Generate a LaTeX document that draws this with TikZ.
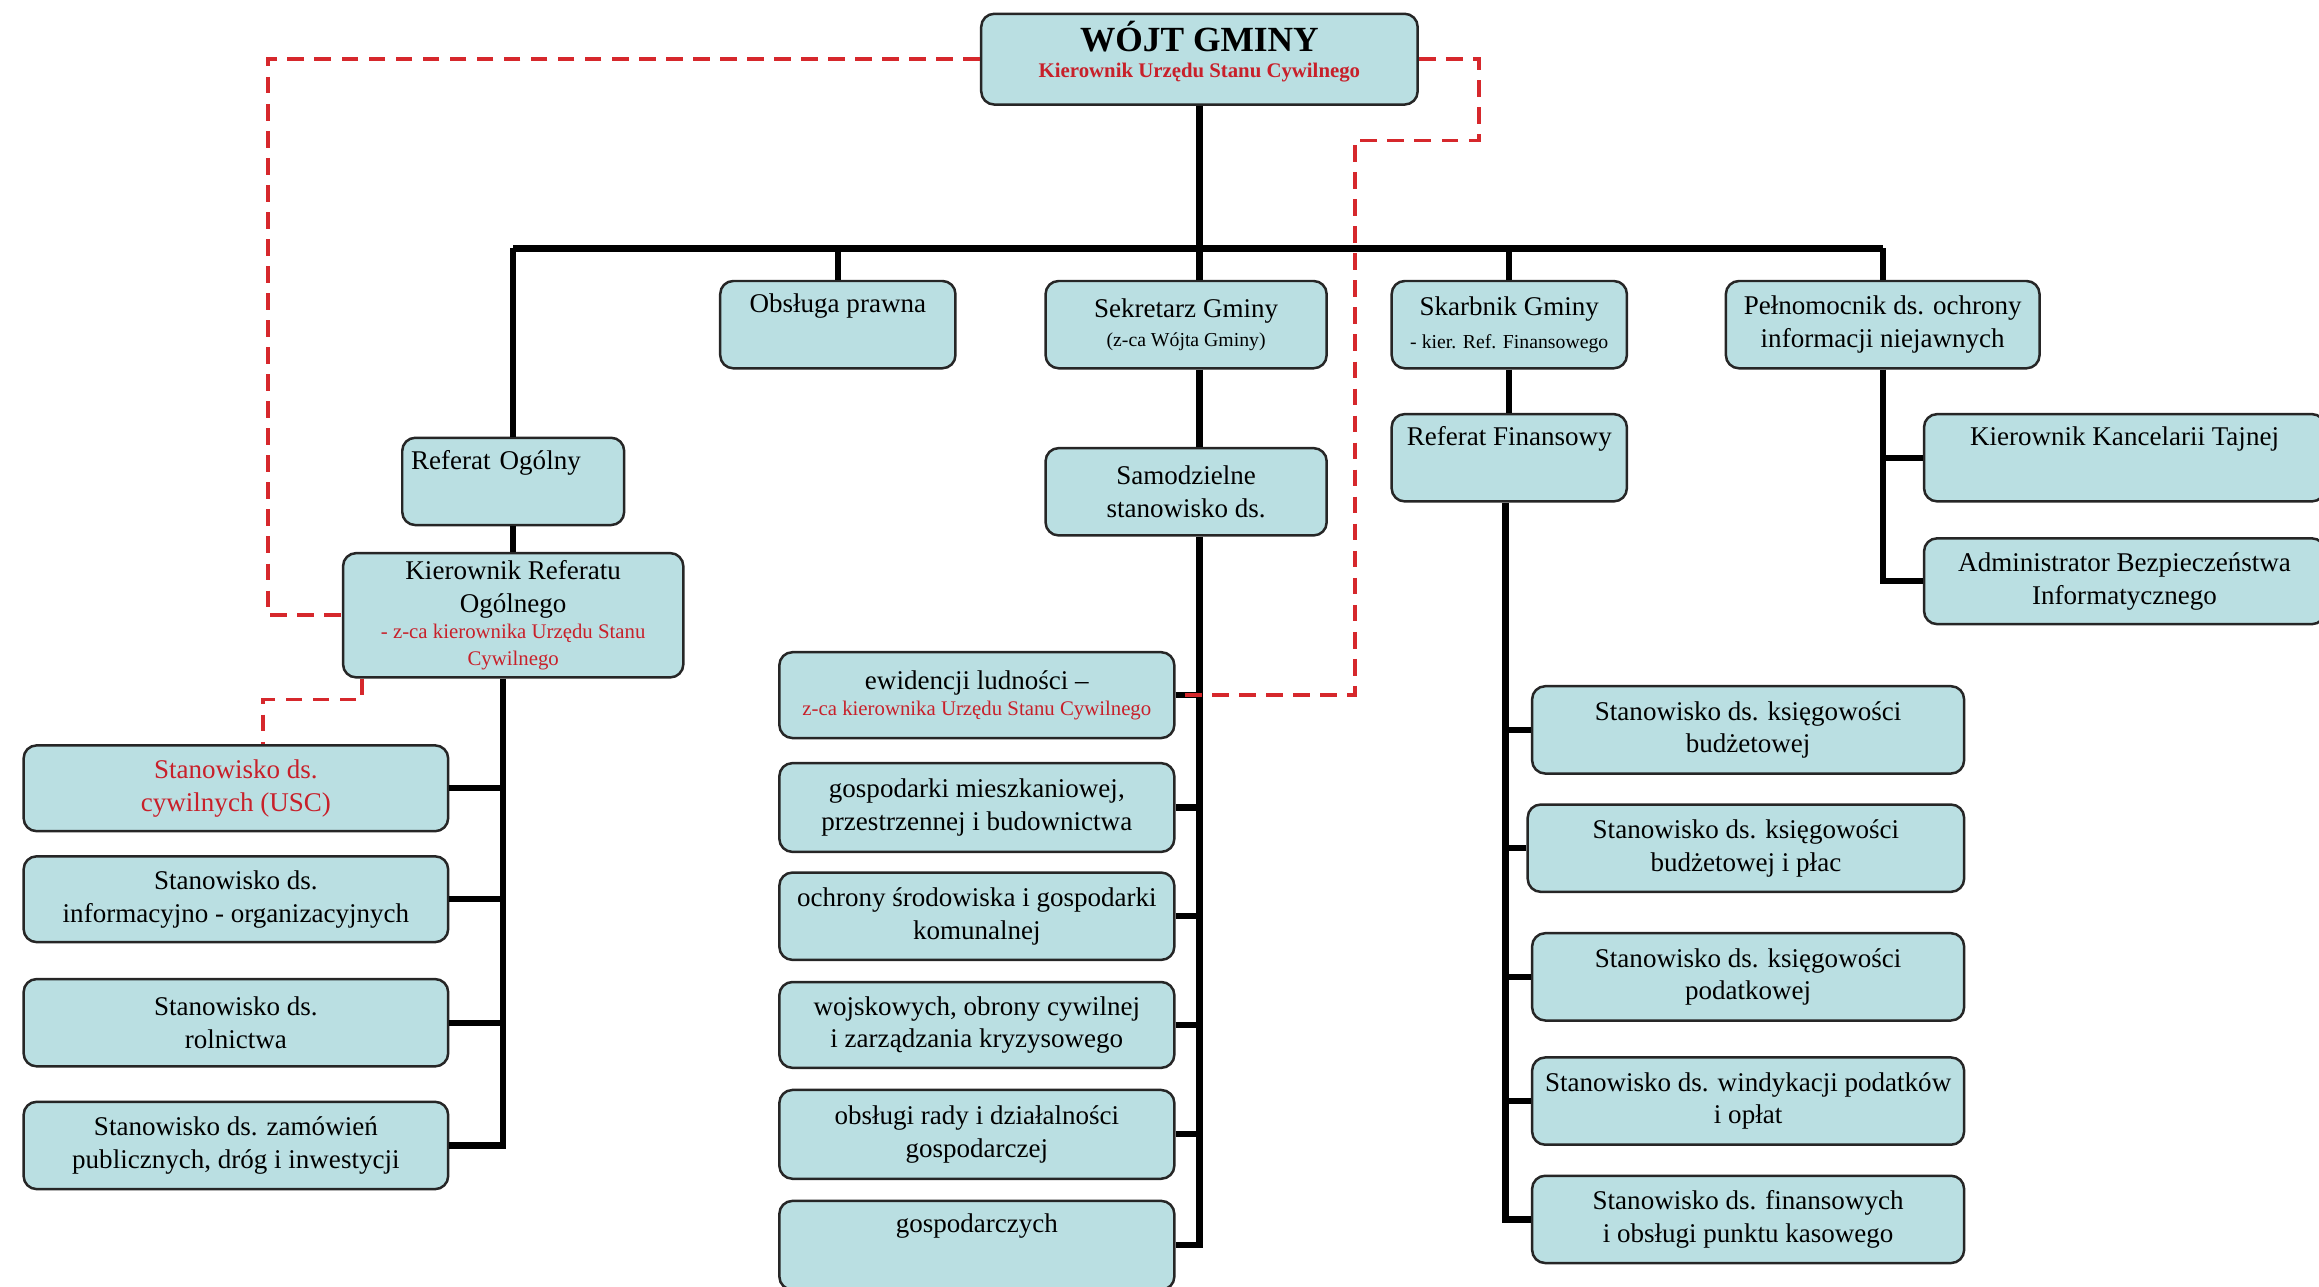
\documentclass[tikz,border=0pt]{standalone}
\usepackage{fontspec}
\setmainfont{Liberation Serif}
\definecolor{boxfill}{RGB}{186,223,226}
\definecolor{uscred}{RGB}{200,32,42}
\definecolor{dashred}{RGB}{214,40,44}
\newcommand{\uscnote}[1]{{\fontsize{10}{12}\selectfont\color{uscred}#1}}
\newcommand{\smallnote}[1]{{\fontsize{9.5}{12}\selectfont #1}}
\tikzset{
  orgbox/.style={draw=black!85, fill=boxfill, line width=1.2pt, rounded corners=0.22cm,
    align=center, font=\fontsize{13}{15.7}\selectfont},
  toptext/.style={text depth=#1},
  conn/.style={line width=3pt},
  usclink/.style={draw=dashred, line width=1.8pt, dash pattern=on 8pt off 5pt}
}
\begin{document}
\begin{tikzpicture}[x=0.025cm, y=-0.025cm]
  \useasboundingbox (0,0) rectangle (1568,870);
  % wojt i drugi poziom
  \node[orgbox, minimum width=7.375cm, minimum height=1.5cm] (wojt) at (811,40)
    {{\fontsize{17}{19}\selectfont\bfseries WÓJT GMINY}\\[-3pt] \uscnote{\bfseries Kierownik Urzędu Stanu Cywilnego}\\[-6pt] \mbox{}};
  \node[orgbox, minimum width=3.975cm, minimum height=1.475cm, toptext=21pt] (prawna) at (566.5,219.5) {Obsługa prawna};
  \node[orgbox, minimum width=4.75cm, minimum height=1.475cm] (sekretarz) at (802,219.5)
    {Sekretarz Gminy\\[-2pt] \smallnote{(z-ca Wójta Gminy)}};
  \node[orgbox, minimum width=3.975cm, minimum height=1.475cm] (skarbnik) at (1020.5,219.5)
    {Skarbnik Gminy\\ \smallnote{- kier. Ref. Finansowego}};
  \node[orgbox, minimum width=5.3cm, minimum height=1.475cm] (pelnomocnik) at (1273,219.5)
    {Pełnomocnik ds. ochrony\\ informacji niejawnych};
  % referat ogolny
  \node[orgbox, minimum width=3.75cm, minimum height=1.475cm, toptext=21pt, text width=3.45cm, align=left] (refogolny) at (347,325.5) {Referat Ogólny};
  \node[orgbox, minimum width=5.75cm, minimum height=2.1cm] (kierref) at (347,416)
    {Kierownik Referatu\\ Ogólnego\\[-3pt] \uscnote{- z-ca kierownika Urzędu Stanu}\\[-3pt] \uscnote{Cywilnego}};
  \node[orgbox, minimum width=7.175cm, minimum height=1.45cm] (usc) at (159.5,533)
    {\color{uscred}Stanowisko ds.\\ \color{uscred}cywilnych (USC)};
  \node[orgbox, minimum width=7.175cm, minimum height=1.45cm] (info) at (159.5,608)
    {Stanowisko ds.\\ informacyjno - organizacyjnych};
  \node[orgbox, minimum width=7.175cm, minimum height=1.475cm] (rolnictwo) at (159.5,691.5)
    {Stanowisko ds.\\ rolnictwa};
  \node[orgbox, minimum width=7.175cm, minimum height=1.475cm] (zamowienia) at (159.5,774.5)
    {Stanowisko ds. zamówień\\ publicznych, dróg i inwestycji};
  % samodzielne stanowiska
  \node[orgbox, minimum width=4.75cm, minimum height=1.475cm] (samodzielne) at (802,332.5)
    {Samodzielne\\ stanowisko ds.};
  \node[orgbox, minimum width=6.675cm, minimum height=1.45cm] (ewidencja) at (660.5,470)
    {ewidencji ludności –\\[-3pt] \uscnote{z-ca kierownika Urzędu Stanu Cywilnego}};
  \node[orgbox, minimum width=6.675cm, minimum height=1.5cm] (mieszkalnictwo) at (660.5,546)
    {gospodarki mieszkaniowej,\\ przestrzennej i budownictwa};
  \node[orgbox, minimum width=6.675cm, minimum height=1.475cm] (srodowisko) at (660.5,619.5)
    {ochrony środowiska i gospodarki\\ komunalnej};
  \node[orgbox, minimum width=6.675cm, minimum height=1.45cm] (wojsko) at (660.5,693)
    {wojskowych, obrony cywilnej\\ i zarządzania kryzysowego};
  \node[orgbox, minimum width=6.675cm, minimum height=1.5cm] (rada) at (660.5,767)
    {obsługi rady i działalności\\ gospodarczej};
  \node[orgbox, minimum width=6.675cm, minimum height=1.5cm, toptext=21pt] (gospodarka) at (660.5,842) {gospodarczych};
  % referat finansowy
  \node[orgbox, minimum width=3.975cm, minimum height=1.475cm, toptext=21pt] (reffin) at (1020.5,309.5) {Referat Finansowy};
  \node[orgbox, minimum width=7.3cm, minimum height=1.475cm] (budzet) at (1182,493.5)
    {Stanowisko ds. księgowości\\ budżetowej};
  \node[orgbox, minimum width=7.375cm, minimum height=1.475cm] (place) at (1180.5,573.5)
    {Stanowisko ds. księgowości\\ budżetowej i płac};
  \node[orgbox, minimum width=7.3cm, minimum height=1.475cm] (podatki) at (1182,660.5)
    {Stanowisko ds. księgowości\\ podatkowej};
  \node[orgbox, minimum width=7.3cm, minimum height=1.475cm] (windykacja) at (1182,744.5)
    {Stanowisko ds. windykacji podatków\\ i opłat};
  \node[orgbox, minimum width=7.3cm, minimum height=1.475cm] (kasa) at (1182,824.5)
    {Stanowisko ds. finansowych\\ i obsługi punktu kasowego};
  % informacje niejawne
  \node[orgbox, minimum width=6.775cm, minimum height=1.475cm, toptext=21pt] (kancelaria) at (1436.5,309.5) {Kierownik Kancelarii Tajnej};
  \node[orgbox, minimum width=6.775cm, minimum height=1.45cm] (abi) at (1436.5,393)
    {Administrator Bezpieczeństwa\\ Informatycznego};
  % linie podleglosci
  \coordinate (bus) at (811,168);
  \coordinate (lbus) at (340,0);
  \coordinate (fbus) at (1018,0);
  \begin{scope}[conn]
    \draw (wojt.south) -- (wojt.south |- sekretarz.north);
    \draw (refogolny.north |- bus) -- (pelnomocnik.north |- bus);
    \draw (refogolny.north |- bus) -- (refogolny.north);
    \draw (prawna.north |- bus) -- (prawna.north);
    \draw (skarbnik.north |- bus) -- (skarbnik.north);
    \draw (pelnomocnik.north |- bus) -- (pelnomocnik.north);
    \draw (refogolny.south) -- (kierref.north);
    \draw (kierref.south -| lbus) |- (zamowienia.east);
    \draw (usc.east) -- (usc.east -| lbus);
    \draw (info.east) -- (info.east -| lbus);
    \draw (rolnictwo.east) -- (rolnictwo.east -| lbus);
    \draw (sekretarz.south -| bus) -- (samodzielne.north -| bus);
    \draw (samodzielne.south -| bus) |- (gospodarka.east);
    \draw (ewidencja.east) -- (ewidencja.east -| bus);
    \draw (mieszkalnictwo.east) -- (mieszkalnictwo.east -| bus);
    \draw (srodowisko.east) -- (srodowisko.east -| bus);
    \draw (wojsko.east) -- (wojsko.east -| bus);
    \draw (rada.east) -- (rada.east -| bus);
    \draw (skarbnik.south) -- (reffin.north);
    \draw (reffin.south -| fbus) |- (kasa.west);
    \draw (budzet.west -| fbus) -- (budzet.west);
    \draw (place.west -| fbus) -- (place.west);
    \draw (podatki.west -| fbus) -- (podatki.west);
    \draw (windykacja.west -| fbus) -- (windykacja.west);
    \draw (pelnomocnik.south) |- (abi.west);
    \draw (kancelaria.west -| pelnomocnik.south) -- (kancelaria.west);
  \end{scope}
  % USC
  \coordinate (usc1) at (181,416);
  \coordinate (usc2) at (1000,95);
  \coordinate (usc3) at (916,470);
  \coordinate (usc4) at (245,473);
  \coordinate (usc5) at (178,473);
  \begin{scope}[usclink]
    \draw (wojt.west) -| (usc1) -- (kierref.west);
    \draw (wojt.east) -| (usc2) -| (usc3) -- (ewidencja.east);
    \draw (kierref.south -| usc4) -- (usc4) -- (usc5) -- (usc5 |- usc.north);
  \end{scope}
\end{tikzpicture}
\end{document}
